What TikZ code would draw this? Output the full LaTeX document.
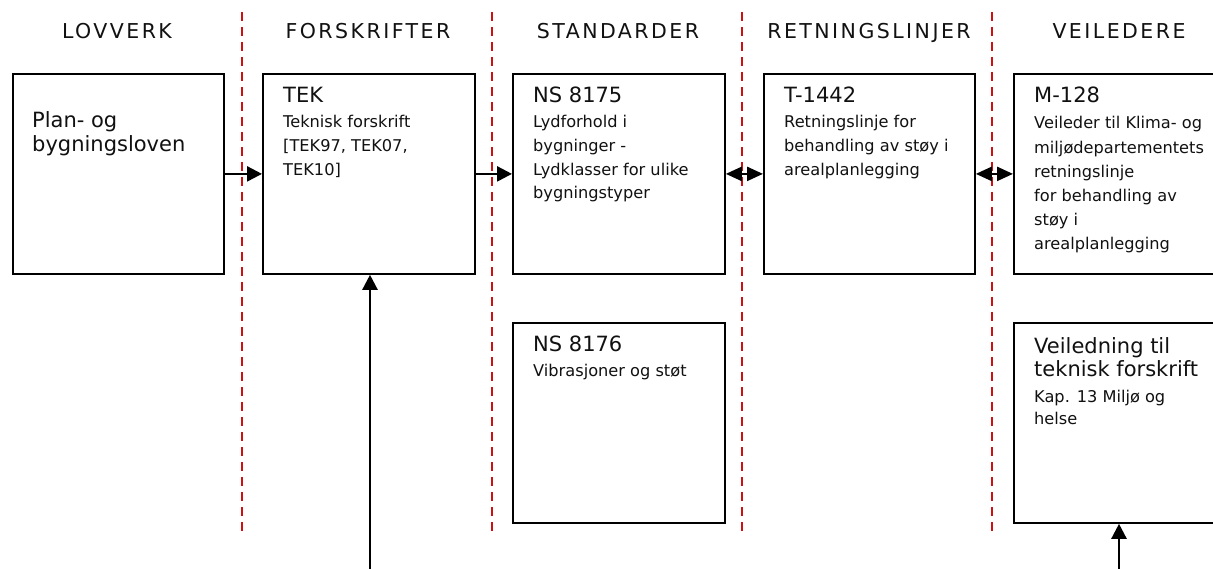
\documentclass[tikz,border=0pt]{standalone}
\usepackage{fontspec}
\setmainfont{DejaVu Sans}
\usetikzlibrary{arrows.meta}
\definecolor{divred}{HTML}{CC1111}
\definecolor{txt}{HTML}{111111}
\tikzset{
  docbox/.style={draw=black, line width=1.8pt, minimum width=212pt, minimum height=200pt, inner sep=0pt, anchor=north west},
  divider/.style={draw=divred, line width=1.4pt, dash pattern=on 9pt off 6pt},
  header/.style={font=\fontsize{20.5}{24}\selectfont\addfontfeature{LetterSpace=12}, text=txt, anchor=base, inner sep=0pt},
  title/.style={font=\fontsize{21}{24}\selectfont, text=txt, anchor=base west, align=left, inner sep=0pt},
  body/.style={font=\fontsize{16.2}{23.6}\selectfont, text=txt, anchor=base west, align=left, inner sep=0pt},
  bodywide/.style={font=\fontsize{16.2}{24.2}\selectfont, text=txt, anchor=base west, align=left, inner sep=0pt},
  bodytight/.style={font=\fontsize{16.2}{21.5}\selectfont, text=txt, anchor=base west, align=left, inner sep=0pt},
  arr/.style={draw=black, line width=2.4pt, -{Triangle[length=15pt,width=15pt]}},
  darr/.style={draw=black, line width=2.4pt, {Triangle[length=16pt,width=14pt]}-{Triangle[length=16pt,width=14pt]}},
}
\begin{document}
\begin{tikzpicture}[x=1pt,y=-1pt]
\clip (0,0) rectangle (1213,569);
\fill[white] (0,0) rectangle (1213,569);

% dividers
\foreach \x in {242,492,742,992} {
  \draw[divider] (\x,12) -- (\x,535);
}

% headers
\node[header] (h1) at (117,39) {LOVVERK};
\node[header] (h2) at (368,39) {FORSKRIFTER};
\node[header] (h3) at (618,39) {STANDARDER};
\node[header] (h4) at (869,39) {RETNINGSLINJER};
\node[header] (h5) at (1119,39) {VEILEDERE};

% boxes
\node[docbox, minimum width=211pt] (b1) at (12,73) {};
\node[docbox] (b2) at (262,73) {};
\node[docbox] (b3) at (512,73) {};
\node[docbox, minimum width=211pt] (b4) at (763,73) {};
\node[docbox] (b5) at (1013,73) {};
\node[docbox] (b6) at (512,322) {};
\node[docbox] (b7) at (1013,322) {};

% texts (multi-line nodes are anchored at the baseline of their last line)
\node[title] (t1) at ([shift={(20,79)}]b1.north west) {Plan- og\\bygningsloven};

\node[title] (t2) at ([shift={(21,30)}]b2.north west) {TEK};
\node[body] (d2) at ([shift={(21,102.2)}]b2.north west) {Teknisk forskrift\\{[}TEK97, TEK07,\\TEK10{]}};

\node[title] (t3) at ([shift={(21,30)}]b3.north west) {NS 8175};
\node[body] (d3) at ([shift={(21,125.8)}]b3.north west) {Lydforhold i\\bygninger -\\Lydklasser for ulike\\bygningstyper};

\node[title] (t4) at ([shift={(21,30)}]b4.north west) {T-1442};
\node[body] (d4) at ([shift={(21,102.2)}]b4.north west) {Retningslinje for\\behandling av støy i\\arealplanlegging};

\node[title] (t5) at ([shift={(21,30)}]b5.north west) {M-128};
\node[bodywide] (d5) at ([shift={(21,177)}]b5.north west) {Veileder til Klima- og\\miljødepartementets\\retningslinje\\for behandling av\\støy i\\arealplanlegging};

\node[title] (t6) at ([shift={(21,30)}]b6.north west) {NS 8176};
\node[body] (d6) at ([shift={(21,55)}]b6.north west) {Vibrasjoner og støt};

\node[title] (t7) at ([shift={(21,55)}]b7.north west) {Veiledning til\\teknisk forskrift};
\node[bodytight] (d7) at ([shift={(21,102)}]b7.north west) {Kap. 13 Miljø og\\helse};

% connectors
\draw[arr] (b1.east) -- (b2.west);
\draw[arr] (b2.east) -- (b3.west);
\draw[darr] (b3.east) -- (b4.west);
\draw[darr] (b4.east) -- (b5.west);

\coordinate (s1) at (370,575);
\coordinate (s2) at (1119,575);
\draw[arr] (s1) -- (s1 |- b2.south);
\draw[arr] (s2) -- (s2 |- b7.south);
\end{tikzpicture}
\end{document}
